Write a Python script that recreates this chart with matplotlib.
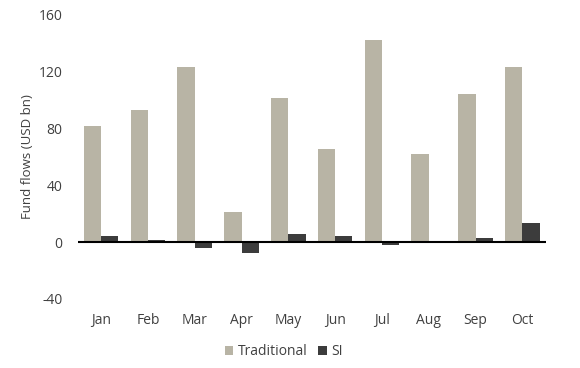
import matplotlib
matplotlib.use("Agg")
import matplotlib.pyplot as plt
import numpy as np

months = ["Jan", "Feb", "Mar", "Apr", "May", "Jun", "Jul", "Aug", "Sep", "Oct"]
traditional = [82, 93, 123, 21, 101.5, 65.5, 142, 62, 104.5, 123]
si = [4.4, 1.5, -4.0, -7.3, 6.0, 4.4, -2.0, 1.0, 3.0, 13.5]
yticks = [-40, 0, 40, 80, 120, 160]

plt.rcParams['font.family'] = ['Open Sans', 'DejaVu Sans']
plt.rcParams['axes.unicode_minus'] = False
text_color = "#404040"

fig = plt.figure(figsize=(5.8, 3.68), dpi=100)
ax = fig.add_axes([0.134, 0.1875, 0.807, 0.772])

x = np.arange(len(months))
w = 0.37
ax.bar(x - w / 2, traditional, w, color="#b8b4a5", label="Traditional", zorder=2)
ax.bar(x + w / 2, si, w, color="#3c3c3c", label="SI", zorder=2)
ax.axhline(0, color="black", lw=1.5, zorder=3)

ax.set_xlim(-0.5, len(months) - 0.5)
ax.set_ylim(-40, 160)
ax.set_yticks(yticks)
ax.set_xticks(x)
ax.set_xticklabels(months)
for s in ax.spines.values():
    s.set_visible(False)
ax.tick_params(axis="both", length=0, labelsize=10, colors=text_color)
ax.tick_params(axis="x", pad=10)
ax.tick_params(axis="y", pad=11)
ax.set_ylabel("Fund flows (USD bn)", fontsize=9.5, color=text_color, labelpad=3)

leg = ax.legend(loc="upper center", bbox_to_anchor=(0.44, -0.115), ncol=2,
                frameon=False, fontsize=10, handlelength=0.6, handleheight=0.6,
                handletextpad=0.3, columnspacing=0.8)
for t in leg.get_texts():
    t.set_color(text_color)

fig.savefig("out.png", dpi=100)
